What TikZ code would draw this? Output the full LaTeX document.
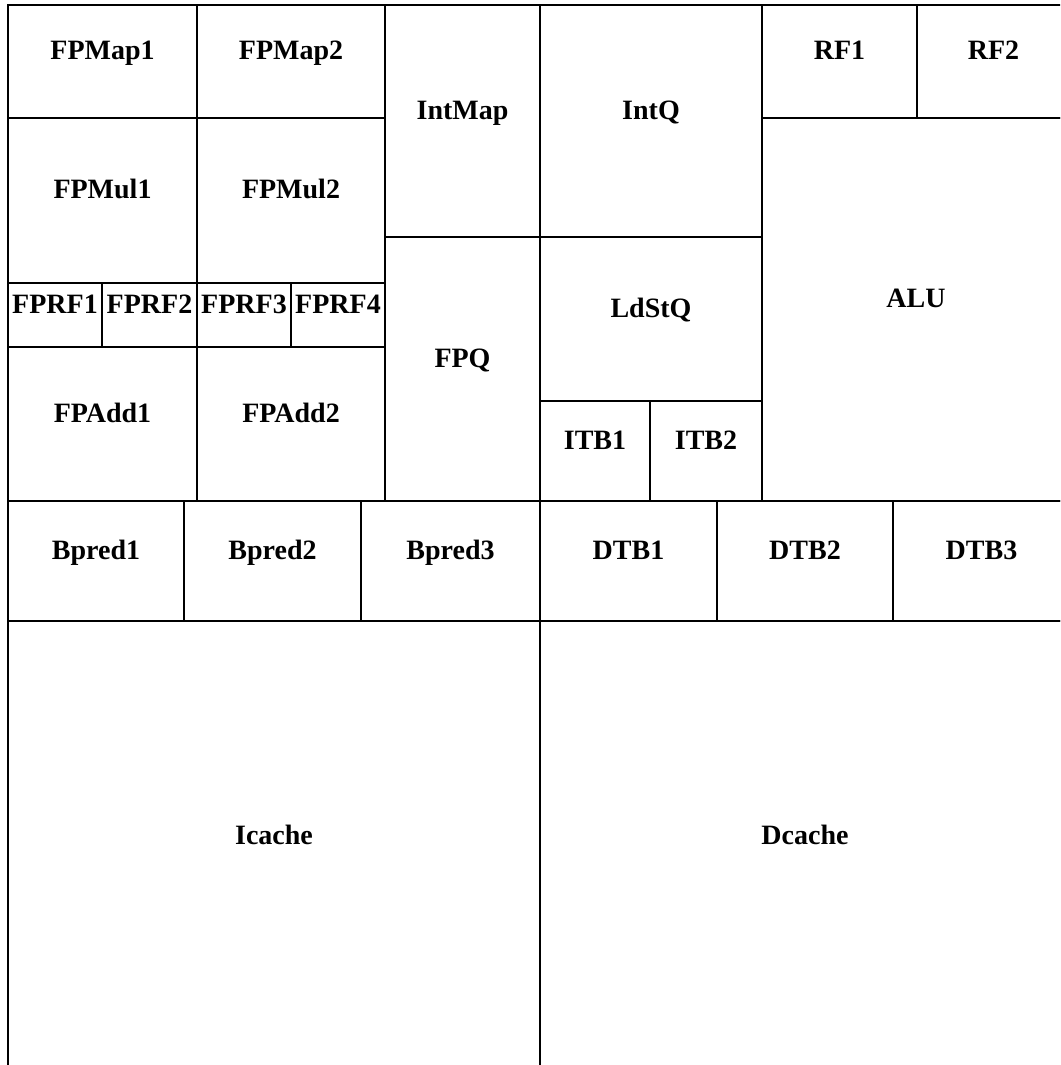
\documentclass[tikz,border=0pt]{standalone}
\usepackage{fontspec}
\setmainfont{Liberation Serif}
\usepackage{tikz}

\begin{document}
\begin{tikzpicture}[
    x=1pt, y=-1pt,
    blk/.style={draw, line width=1.3pt},
    lbl/.style={font=\fontsize{28}{30}\selectfont\bfseries, anchor=base, inner sep=0pt},
]
\useasboundingbox (0,0) rectangle (1060,1065);
\clip (0,0) rectangle (1060,1065);

% Floorplan blocks: name / left / top / right / bottom
\foreach \name/\xa/\ya/\xb/\yb in {
    FPMap1/8/5/197/118,
    FPMap2/197/5/385/118,
    FPMul1/8/118/197/283,
    FPMul2/197/118/385/283,
    FPRF1/8/283/102/347,
    FPRF2/102/283/197/347,
    FPRF3/197/283/291/347,
    FPRF4/291/283/385/347,
    FPAdd1/8/347/197/501,
    FPAdd2/197/347/385/501,
    IntMap/385/5/540/237,
    FPQ/385/237/540/501,
    IntQ/540/5/762/237,
    LdStQ/540/237/762/401,
    ITB1/540/401/650/501,
    ITB2/650/401/762/501,
    RF1/762/5/917/118,
    RF2/917/5/1070/118,
    ALU/762/118/1070/501,
    Bpred1/8/501/184/621,
    Bpred2/184/501/361/621,
    Bpred3/361/501/540/621,
    DTB1/540/501/717/621,
    DTB2/717/501/893/621,
    DTB3/893/501/1070/621,
    Icache/8/621/540/1071,
    Dcache/540/621/1070/1071%
} {
    \draw[blk] (\xa,\ya) rectangle (\xb,\yb);
    \node[lbl] (\name) at ({(\xa+\xb)/2}, {(\ya+\yb)/2-2}) {\name};
}

\end{tikzpicture}
\end{document}
